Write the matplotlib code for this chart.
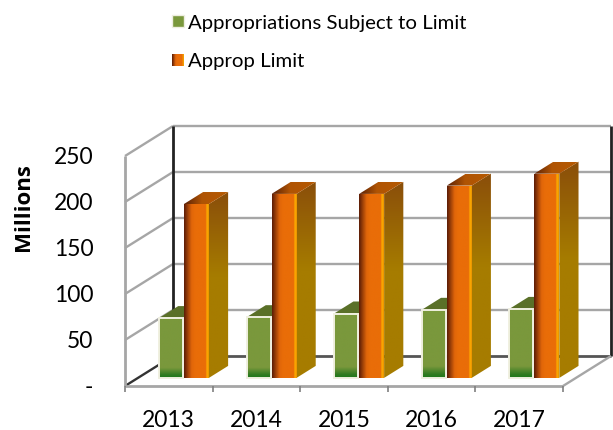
import numpy as np
import matplotlib
matplotlib.use('Agg')
import matplotlib.pyplot as plt
from matplotlib.colors import LinearSegmentedColormap
from matplotlib.patches import Polygon, Rectangle

years = ['2013', '2014', '2015', '2016', '2017']
approp_subject = [65, 66, 70, 74, 75]
approp_limit = [189, 200, 200, 209, 222]
y_ticks = [0, 50, 100, 150, 200, 250]
y_labels = ['-', '50', '100', '150', '200', '250']
series_names = ['Appropriations Subject to Limit', 'Approp Limit']

plt.rcParams['font.family'] = ['Lato', 'DejaVu Sans']

W, H = 613, 430
fig = plt.figure(figsize=(W / 100, H / 100), dpi=100)
ax = fig.add_axes([125 / W, (H - 386) / H, 438 / W, 230 / H])
ax.axis('off')

# depth of the floor in data units (48 px right, 30 px up on the picture)
DX = 48 / (438 / 5)
DY = 30 / (230 / 250)


def proj(x, y, d):
    return x + DX * d, y + DY * d


front_cmap = LinearSegmentedColormap.from_list('front', [
    (0, '#5a1c06'), (0.3, '#e0650a'), (0.45, '#e96d08'), (0.88, '#e96d08'),
    (0.92, '#ffb000'), (1, '#e89000')])
side_cmap = LinearSegmentedColormap.from_list('side', [
    (0, '#a67c00'), (0.55, '#a67c00'), (1, '#8a4e0a')])
top_cmap = LinearSegmentedColormap.from_list('top', [
    (0, '#5a2006'), (0.4, '#b05404'), (1, '#b55a02')])
green_cmap = LinearSegmentedColormap.from_list('green', [
    (0, '#1f7a1a'), (0.05, '#2f7a20'), (0.17, '#7a983c'), (1, '#7a983c')])


def grad(pts, cmap, vertical=False, z=3):
    xs = [p[0] for p in pts]
    ys = [p[1] for p in pts]
    g = np.linspace(0, 1, 128)
    g = g.reshape(-1, 1) if vertical else g.reshape(1, -1)
    im = ax.imshow(g, cmap=cmap, extent=[min(xs), max(xs), min(ys), max(ys)],
                   origin='lower', aspect='auto', zorder=z,
                   interpolation='bilinear', vmin=0, vmax=1)
    poly = Polygon(pts, transform=ax.transData, fill=False, ec='none')
    ax.add_patch(poly)
    im.set_clip_box(fig.bbox)
    im.set_clip_path(poly)


def bar(x0, x1, val, d0, d1):
    front = [proj(x0, 0, d0), proj(x1, 0, d0), proj(x1, val, d0), proj(x0, val, d0)]
    side = [proj(x1, 0, d0), proj(x1, 0, d1), proj(x1, val, d1), proj(x1, val, d0)]
    top = [proj(x0, val, d0), proj(x1, val, d0), proj(x1, val, d1), proj(x0, val, d1)]
    return front, side, top


def seg(a, b, color, lw):
    ax.plot([a[0], b[0]], [a[1], b[1]], color=color, lw=lw, zorder=1, clip_on=False,
            solid_capstyle='butt')


# walls
grid_c = '#a6a6a6'
for t in y_ticks[1:]:
    seg(proj(0, t, 1), proj(5, t, 1), grid_c, 1.7)
    seg(proj(0, t, 0), proj(0, t, 1), grid_c, 1.7)
seg(proj(0, 0, 1), proj(5, 0, 1), '#555555', 2)
seg(proj(0, 0, 0), proj(0, 0, 1), '#333333', 1.7)
for x in [0, 5]:
    seg(proj(x, 0, 1), proj(x, 250, 1), '#222222', 2)

# front edge of the floor and wall
seg((0, 0), (5, 0), grid_c, 2)
seg(proj(5, 0, 0), proj(5, 0, 1), grid_c, 1.7)
seg((0, 0), (0, 250), grid_c, 2)
seg((0, 0), (0, -7), '#808080', 1.2)
for i in range(len(years)):
    seg((i + 1, 0), (i + 1, -7), '#808080', 1.2)

# bars
for i in range(len(years)):
    g0, g1 = i + 0.24, i + 0.515
    o0, o1 = i + 0.525, i + 0.81
    front, side, top = bar(g0, g1, approp_subject[i], 0.27, 0.67)
    ax.add_patch(Polygon(top, fc='#5a7028', ec='none', zorder=3))
    grad(front, green_cmap, vertical=True, z=3)
    ax.add_patch(Polygon(front, fill=False, ec='#f0f0e0', lw=1.4, zorder=3.1))
    front, side, top = bar(o0, o1, approp_limit[i], 0.27, 0.67)
    grad(side, side_cmap, vertical=True, z=4)
    grad(top, top_cmap, z=4)
    grad(front, front_cmap, z=4.1)

ax.set_xlim(0, 5)
ax.set_ylim(0, 250)

# axis labels
for i, y in enumerate(years):
    ax.text(i + 0.5, -37, y, ha='center', va='center', fontsize=16.5, color='black', clip_on=False)
for t, lab in zip(y_ticks, y_labels):
    ax.text(-0.36, t, lab, ha='right', va='center_baseline', fontsize=16.5, color='black', clip_on=False)
fig.text(24 / W, 1 - 207 / H, 'Millions', rotation=90, ha='center', va='center',
         fontsize=16, fontweight='bold', family=['Open Sans', 'DejaVu Sans'])

# legend
fig.add_artist(Rectangle((172 / W, 1 - 27 / H), 12 / W, 12 / H, fc='#7a983c', ec='#eeeee0',
                         lw=1, transform=fig.transFigure))
lax = fig.add_axes([172 / W, 1 - 66 / H, 12 / W, 12 / H])
lax.axis('off')
lax.imshow(np.linspace(0, 1, 64).reshape(1, -1), cmap=front_cmap, aspect='auto', vmin=0, vmax=1)
fig.text(188 / W, 1 - 23 / H, series_names[0], ha='left', va='center', fontsize=14.7)
fig.text(188 / W, 1 - 61 / H, series_names[1], ha='left', va='center', fontsize=14.7)

fig.savefig('out.png', dpi=100)
